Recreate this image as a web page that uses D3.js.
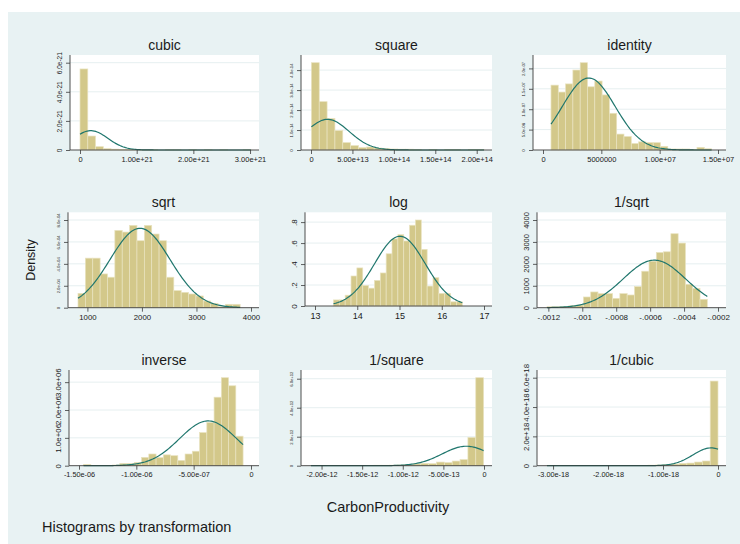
<!DOCTYPE html>
<html>
<head>
<meta charset="utf-8">
<script src="https://cdn.jsdelivr.net/npm/d3@7"></script>
<style>
  body { margin: 0; background: #fff; }
  svg text { font-family: "Liberation Sans", Arial, Helvetica, sans-serif; fill: #1a1a1a; }
</style>
</head>
<body>
<svg id="chart" width="740" height="544"></svg>
<script>
// ---- data ----
const transforms = ["cubic", "square", "identity", "sqrt", "log", "1/sqrt", "inverse", "1/square", "1/cubic"];

// range covered by the 22 histogram bins of each transformation
const binLow  = [3.2e17, 4.7e11, 0.685e6, 827.6, 13.437, -0.001208, -1.46e-6, -2.13e-12, -3.11e-18];
const binHigh = [3.017e21, 2.088e14, 14.45e6, 3801, 16.486, -0.000263, -6.92e-8, -4.8e-15, -3.3e-22];

// bar densities, left to right
const cubicBars = [5.57e-21, 0.96e-21, 0.23e-21, 0.09e-21, 0.06e-21, 0.03e-21, 0.03e-21, 0.015e-21, 0.015e-21, 0.015e-21, 0,
  0.015e-21, 0.015e-21, 0, 0.015e-21, 0, 0.015e-21, 0, 0.015e-21, 0, 0, 0.015e-21];
const squareBars = [4.37e-14, 2.42e-14, 1.58e-14, 0.97e-14, 0.37e-14, 0.22e-14, 0.12e-14, 0.15e-14, 0.10e-14, 0.08e-14, 0.05e-14,
  0.04e-14, 0.04e-14, 0.02e-14, 0, 0.02e-14, 0, 0.02e-14, 0.02e-14, 0, 0.02e-14, 0.02e-14];
const identityBars = [1.59e-7, 1.42e-7, 1.62e-7, 1.96e-7, 2.14e-7, 1.55e-7, 1.69e-7, 1.35e-7, 0.90e-7, 0.39e-7, 0.33e-7,
  0.16e-7, 0.20e-7, 0.18e-7, 0.18e-7, 0.09e-7, 0.025e-7, 0.025e-7, 0.025e-7, 0.016e-7, 0.065e-7, 0.03e-7];
const sqrtBars = [1.31e-4, 4.52e-4, 4.52e-4, 3.08e-4, 2.78e-4, 7.05e-4, 6.90e-4, 7.51e-4, 6.11e-4, 7.51e-4, 6.72e-4,
  6.11e-4, 2.78e-4, 1.56e-4, 1.40e-4, 1.25e-4, 1.07e-4, 0.61e-4, 0.40e-4, 0.09e-4, 0.31e-4, 0.31e-4];
const logBars = [0.058, 0.058, 0.103, 0.286, 0.363, 0.196, 0.170, 0.244, 0.315, 0.498, 0.64,
  0.68, 0.62, 0.77, 0.82, 0.54, 0.19, 0.27, 0.12, 0.12, 0.04, 0.04];
const invSqrtBars = [46, 46, 61, 92, 122, 489, 718, 641, 641, 427, 641,
  580, 962, 1664, 2122, 2519, 2550, 3374, 2947, 1069, 885, 382];
const inverseBars = [0.048e6, 0.012e6, 0.012e6, 0.012e6, 0.024e6, 0.084e6, 0.084e6, 0.12e6, 0.30e6, 0.42e6, 0.29e6,
  0.39e6, 0.36e6, 0.19e6, 0.42e6, 0.52e6, 1.19e6, 1.55e6, 2.46e6, 3.16e6, 2.87e6, 1.06e6];
const invSquareBars = [0.015e12, 0.01e12, 0, 0.015e12, 0.01e12, 0.015e12, 0.02e12, 0.02e12, 0.03e12, 0.03e12, 0.035e12,
  0.05e12, 0.07e12, 0.12e12, 0.16e12, 0.14e12, 0.25e12, 0.21e12, 0.32e12, 0.42e12, 1.95e12, 6.07e12];
const invCubicBars = [0.015e18, 0, 0.015e18, 0, 0.015e18, 0, 0.015e18, 0.005e18, 0.015e18, 0.005e18, 0.015e18,
  0.01e18, 0.02e18, 0.035e18, 0.05e18, 0.07e18, 0.11e18, 0.16e18, 0.18e18, 0.25e18, 0.32e18, 5.77e18];
const densities = [cubicBars, squareBars, identityBars, sqrtBars, logBars, invSqrtBars, inverseBars, invSquareBars, invCubicBars];

// normal curve overlaid on each histogram
const curveMean = [0.19e21, 2.0e13, 3.92e6, 1965, 15.01, -0.000575, -3.74e-7, -2.17e-13, -1.27e-19];
const curveSd   = [0.30e21, 2.6e13, 2.26e6, 551, 0.60, 1.84e-4, 2.48e-7, 2.97e-13, 3.29e-19];

// tick values and labels
const xTicks = [
  [0, 1e21, 2e21, 3e21],
  [0, 5e13, 1e14, 1.5e14, 2e14],
  [0, 5e6, 1e7, 1.5e7],
  [1000, 2000, 3000, 4000],
  [13, 14, 15, 16, 17],
  [-0.0012, -0.001, -0.0008, -0.0006, -0.0004, -0.0002],
  [-1.5e-6, -1e-6, -5e-7, 0],
  [-2e-12, -1.5e-12, -1e-12, -5e-13, 0],
  [-3e-18, -2e-18, -1e-18, 0]
];
const xLabels = [
  ["0", "1.00e+21", "2.00e+21", "3.00e+21"],
  ["0", "5.00e+13", "1.00e+14", "1.50e+14", "2.00e+14"],
  ["0", "5000000", "1.00e+07", "1.50e+07"],
  ["1000", "2000", "3000", "4000"],
  ["13", "14", "15", "16", "17"],
  ["-.0012", "-.001", "-.0008", "-.0006", "-.0004", "-.0002"],
  ["-1.50e-06", "-1.00e-06", "-5.00e-07", "0"],
  ["-2.00e-12", "-1.50e-12", "-1.00e-12", "-5.00e-13", "0"],
  ["-3.00e-18", "-2.00e-18", "-1.00e-18", "0"]
];
const yTicks = [
  [0, 2e-21, 4e-21, 6e-21],
  [0, 1e-14, 2e-14, 3e-14, 4e-14],
  [0, 5e-8, 1e-7, 1.5e-7, 2e-7],
  [0, 2e-4, 4e-4, 6e-4, 8e-4],
  [0, 0.2, 0.4, 0.6, 0.8],
  [0, 1000, 2000, 3000, 4000],
  [0, 1e6, 2e6, 3e6],
  [0, 2e12, 4e12, 6e12],
  [0, 2e18, 4e18, 6e18]
];
const yLabels = [
  ["0", "2.0e-21", "4.0e-21", "6.0e-21"],
  ["0", "1.0e-14", "2.0e-14", "3.0e-14", "4.0e-14"],
  ["0", "5.0e-08", "1.0e-07", "1.5e-07", "2.0e-07"],
  ["0", "2.0e-04", "4.0e-04", "6.0e-04", "8.0e-04"],
  ["0", ".2", ".4", ".6", ".8"],
  ["0", "1000", "2000", "3000", "4000"],
  ["0", "1.0e+06", "2.0e+06", "3.0e+06"],
  ["0", "2.0e+12", "4.0e+12", "6.0e+12"],
  ["0", "2.0e+18", "4.0e+18", "6.0e+18"]
];

// ---- layout and styles ----
const plotLeft = [70, 301, 533, 68, 305, 537, 69, 301, 537];
const colRight = [259, 492, 726];
const rowTop = [55, 212.3, 370];
const plotBottom = [150, 150, 150, 307.7, 306, 307.7, 465.7, 465.7, 465.7];
const yLabelSize = [6.5, 4.2, 4.2, 4.2, 8, 7.5, 7.9, 4.2, 7.8];
const xLabelSize = [7.5, 7.5, 7.5, 7.8, 9, 8, 7.3, 7.3, 7.3];

const barFill = "#d3c88a";
const barEdge = "#e9e3c0";
const curveColor = "#1f766d";
const gridColor = "#e6eff0";
const axisColor = "#3a3a3a";

const svg = d3.select("#chart");

svg.append("rect")
  .attr("x", 8).attr("y", 12)
  .attr("width", 732).attr("height", 532)
  .attr("fill", "#e8f2f3");

transforms.forEach((name, i) => {
  const col = i % 3;
  const row = Math.floor(i / 3);
  const x0 = plotLeft[i], x1 = colRight[col];
  const top = rowTop[row], bottom = plotBottom[i];
  const lo = binLow[i], hi = binHigh[i];
  const bars = densities[i];
  const w = (hi - lo) / bars.length;
  const xt = xTicks[i], yt = yTicks[i];

  const x = d3.scaleLinear()
    .domain([Math.min(xt[0], lo), Math.max(xt[xt.length - 1], hi)])
    .range([x0 + 10, x1 - 8]);
  const y = d3.scaleLinear()
    .domain([0, Math.max(yt[yt.length - 1], d3.max(bars))])
    .range([bottom, top + 7.7]);

  const g = svg.append("g").attr("class", "panel");

  // white plot region
  g.append("rect")
    .attr("x", x0).attr("y", top)
    .attr("width", x1 - x0).attr("height", bottom - top)
    .attr("fill", "#fff");

  // horizontal grid
  g.selectAll(".grid")
    .data(yt.filter((v) => v !== 0))
    .join("line")
    .attr("class", "grid")
    .attr("x1", x0).attr("x2", x1)
    .attr("y1", (d) => y(d)).attr("y2", (d) => y(d))
    .attr("stroke", gridColor)
    .attr("stroke-width", 1);

  // histogram bars
  g.selectAll(".bar")
    .data(bars.map((d, k) => ({ k: k, v: d })).filter((d) => d.v > 0))
    .join("rect")
    .attr("class", "bar")
    .attr("x", (d) => x(lo + d.k * w))
    .attr("width", (d) => x(lo + (d.k + 1) * w) - x(lo + d.k * w))
    .attr("y", (d) => y(d.v))
    .attr("height", (d) => bottom - y(d.v))
    .attr("fill", barFill)
    .attr("stroke", barEdge)
    .attr("stroke-width", 0.7);

  // normal density curve
  const m = curveMean[i], s = curveSd[i];
  const pdf = (v) => Math.exp(-0.5 * ((v - m) / s) ** 2) / (s * Math.sqrt(2 * Math.PI));
  const pts = d3.range(0, 121).map((k) => lo + ((hi - lo) * k) / 120);
  g.append("path")
    .datum(pts)
    .attr("d", d3.line().x((v) => x(v)).y((v) => y(pdf(v))))
    .attr("fill", "none")
    .attr("stroke", curveColor)
    .attr("stroke-width", 1.2);

  // axis lines
  g.append("line")
    .attr("x1", x0).attr("x2", x0).attr("y1", top).attr("y2", bottom)
    .attr("stroke", axisColor).attr("stroke-width", 0.9);
  g.append("line")
    .attr("x1", x0).attr("x2", x1).attr("y1", bottom).attr("y2", bottom)
    .attr("stroke", axisColor).attr("stroke-width", 0.9);

  // x axis
  const xs = xLabelSize[i];
  const xg = g.append("g")
    .attr("transform", `translate(0,${bottom})`)
    .call(d3.axisBottom(x).tickValues(xt)
      .tickFormat((d, k) => xLabels[i][k])
      .tickSize(4).tickSizeOuter(0).tickPadding(2.5));
  xg.select(".domain").remove();
  xg.attr("font-size", null).attr("font-family", null);
  xg.selectAll("line").attr("stroke", axisColor).attr("stroke-width", 0.8);
  xg.selectAll("text").style("font-size", xs + "px").attr("dy", "0.72em");

  // y axis with vertical labels
  const ys = yLabelSize[i];
  const yg = g.append("g")
    .attr("transform", `translate(${x0},0)`)
    .call(d3.axisLeft(y).tickValues(yt)
      .tickFormat((d, k) => yLabels[i][k])
      .tickSize(4).tickSizeOuter(0));
  yg.select(".domain").remove();
  yg.attr("font-size", null).attr("font-family", null);
  yg.selectAll("line").attr("stroke", axisColor).attr("stroke-width", 0.8);
  yg.selectAll("text")
    .attr("x", null)
    .attr("dy", "0.35em")
    .attr("text-anchor", "middle")
    .attr("transform", `translate(${-(4 + 3 + ys / 2)},0) rotate(-90)`)
    .style("font-size", ys + "px");

  // panel title
  g.append("text")
    .attr("x", (x0 + x1) / 2)
    .attr("y", top - 5.5)
    .attr("text-anchor", "middle")
    .style("font-size", "14px")
    .text(name);
});

// shared titles
svg.append("text")
  .attr("transform", "translate(31,260) rotate(-90)")
  .attr("dy", "0.35em")
  .attr("text-anchor", "middle")
  .style("font-size", "12.5px")
  .text("Density");

svg.append("text")
  .attr("x", 388).attr("y", 512)
  .attr("text-anchor", "middle")
  .style("font-size", "14.5px")
  .text("CarbonProductivity");

svg.append("text")
  .attr("x", 42).attr("y", 532)
  .style("font-size", "14.5px")
  .text("Histograms by transformation");
</script>
</body>
</html>
